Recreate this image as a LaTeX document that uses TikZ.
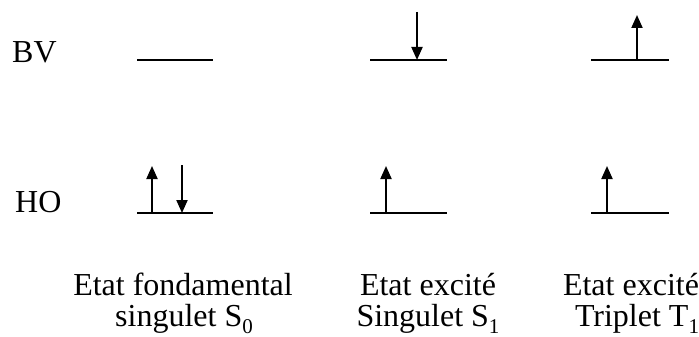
\documentclass[tikz,border=0pt]{standalone}
\usepackage{fontspec}
\setmainfont{Liberation Serif}
\usetikzlibrary{arrows.meta}

\tikzset{
  level/.style={line width=2pt},
  spin/.style={line width=2pt,-{Triangle[width=11pt,length=13pt]}},
  lbl/.style={anchor=base,inner sep=0pt,font=\fontsize{32}{31}\selectfont}
}
\newcommand{\lowsub}[1]{\raisebox{-0.22em}{\fontsize{21}{21}\selectfont #1}}

\begin{document}
\begin{tikzpicture}[x=1pt,y=-1pt]
      \useasboundingbox (0,0) rectangle (699,337);

      % Orbital labels
      \node[lbl,anchor=base west] (bv) at (12,63) {BV};
      \node[lbl,anchor=base west] (ho) at (15,212) {HO};

      % Level end points
      \coordinate (s0bvL) at (137,60); \coordinate (s0bvR) at (213,60);
      \coordinate (s0hoL) at (137,213); \coordinate (s0hoR) at (213,213);
      \coordinate (s1bvL) at (370,60); \coordinate (s1bvR) at (447,60);
      \coordinate (s1hoL) at (370,213); \coordinate (s1hoR) at (447,213);
      \coordinate (t1bvL) at (591,60); \coordinate (t1bvR) at (669,60);
      \coordinate (t1hoL) at (591,213); \coordinate (t1hoR) at (669,213);

      % Levels
      \draw[level] (s0bvL) -- (s0bvR);
      \draw[level] (s0hoL) -- (s0hoR);
      \draw[level] (s1bvL) -- (s1bvR);
      \draw[level] (s1hoL) -- (s1hoR);
      \draw[level] (t1bvL) -- (t1bvR);
      \draw[level] (t1hoL) -- (t1hoR);

      % ==== Ground state S0 ====
      \coordinate (s0upA) at (152,213); \coordinate (s0upB) at (152,166);
      \coordinate (s0dnA) at (182,165); \coordinate (s0dnB) at (182,213);
      \draw[spin] (s0upA) -- (s0upB);
      \draw[spin] (s0dnA) -- (s0dnB);

      % ==== Excited singlet S1 ====
      \coordinate (s1dnA) at (417,12); \coordinate (s1dnB) at (417,60);
      \coordinate (s1upA) at (386,213); \coordinate (s1upB) at (386,166);
      \draw[spin] (s1dnA) -- (s1dnB);
      \draw[spin] (s1upA) -- (s1upB);

      % ==== Excited triplet T1 ====
      \coordinate (t1upA) at (637,60); \coordinate (t1upB) at (637,15);
      \coordinate (t1hupA) at (607,213); \coordinate (t1hupB) at (607,166);
      \draw[spin] (t1upA) -- (t1upB);
      \draw[spin] (t1hupA) -- (t1hupB);

      % State captions
      \node[lbl] (s0a) at (183,295) {Etat fondamental};
      \node[lbl] (s0b) at (184,326) {singulet S\lowsub{0}};
      \node[lbl] (s1a) at (428,295) {Etat excité};
      \node[lbl] (s1b) at (428,326) {Singulet S\lowsub{1}};
      \node[lbl] (t1a) at (631,295) {Etat excité};
      \node[lbl] (t1b) at (637,326) {Triplet T\lowsub{1}};

\end{tikzpicture}
\end{document}
